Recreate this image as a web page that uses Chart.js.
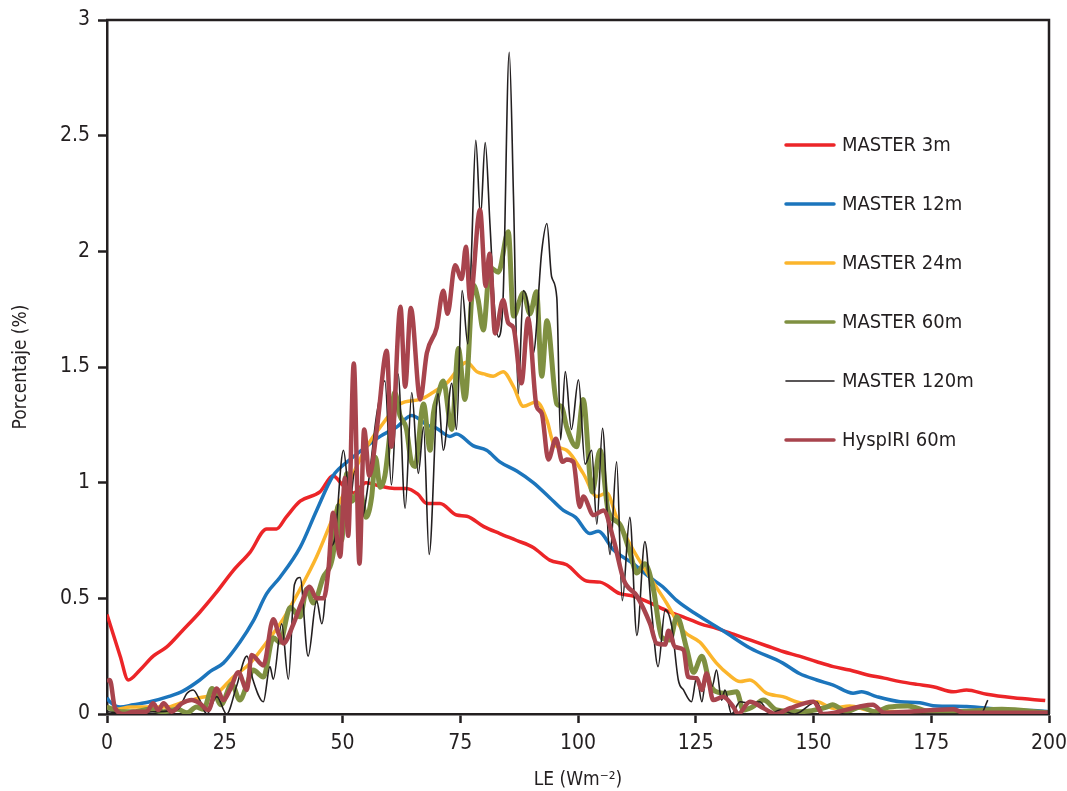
<!DOCTYPE html>
<html>
<head>
<meta charset="utf-8">
<script src="https://cdn.jsdelivr.net/npm/chart.js@4/dist/chart.umd.min.js"></script>
<style>
  html, body { margin: 0; padding: 0; background: #fff; }
  #wrap { width: 1067px; height: 791px; }
</style>
</head>
<body>
<div id="wrap"><canvas id="leChart" width="1067" height="791"></canvas></div>
<script>
'use strict'

// Datos (LE en Wm-2, porcentaje en %)
const xTicks = [0, 25, 50, 75, 100, 125, 150, 175, 200];
const yTicks = [0, 0.5, 1, 1.5, 2, 2.5, 3];

const labels = ['MASTER 3m', 'MASTER 12m', 'MASTER 24m', 'MASTER 60m', 'MASTER 120m', 'HyspIRI 60m'];

const m3X = [0, 2.8, 4.5, 7, 9.8, 12.7, 16, 19.7, 23, 26.8, 30.4, 33.9, 36, 38, 41, 45.2, 48, 50, 52.3, 55, 58, 61, 63.6, 66, 67.9, 70.7, 74.2, 76.4, 80, 83.4, 87, 90.5, 94, 97.6, 101.8, 104.7, 108.9, 111.7, 115.3, 119, 122.3, 126, 129.4, 133, 136.5, 140, 143.5, 147, 150.7, 154.2, 157.7, 161.3, 165, 168.4, 172, 175.4, 179.7, 182.5, 186.8, 192.4, 199.2];
const m3Y = [0.43, 0.25, 0.147, 0.19, 0.25, 0.29, 0.36, 0.44, 0.52, 0.62, 0.70, 0.80, 0.80, 0.85, 0.92, 0.96, 1.03, 0.99, 0.955, 1.0, 0.985, 0.975, 0.975, 0.95, 0.91, 0.91, 0.86, 0.855, 0.81, 0.78, 0.75, 0.72, 0.665, 0.645, 0.575, 0.57, 0.52, 0.51, 0.48, 0.445, 0.42, 0.39, 0.37, 0.345, 0.32, 0.295, 0.27, 0.25, 0.226, 0.205, 0.19, 0.17, 0.155, 0.14, 0.128, 0.118, 0.096, 0.104, 0.085, 0.07, 0.058];

const m12X = [0, 0.6, 2.8, 5.6, 9.1, 13, 16.2, 19.7, 22, 24.7, 28.2, 31, 33.9, 36.7, 41, 44.5, 48, 51.6, 55, 58, 61.5, 64.7, 66.3, 67.9, 70, 72.8, 74.2, 77.7, 80.6, 83.4, 87, 90.5, 94, 96.9, 99.5, 102.5, 104.3, 107.5, 111.7, 115.3, 118, 121, 125.2, 130.8, 136.5, 143.5, 147, 150.7, 154.2, 158.4, 160.2, 163.4, 168.4, 172.6, 175.4, 182.5, 189.6, 196.6, 200];
const m12Y = [0.07, 0.053, 0.03, 0.04, 0.053, 0.075, 0.10, 0.147, 0.185, 0.22, 0.31, 0.40, 0.52, 0.59, 0.72, 0.88, 1.03, 1.1, 1.155, 1.2, 1.24, 1.29, 1.275, 1.25, 1.235, 1.20, 1.21, 1.16, 1.14, 1.09, 1.05, 1.0, 0.935, 0.88, 0.85, 0.78, 0.79, 0.71, 0.65, 0.59, 0.55, 0.49, 0.43, 0.36, 0.285, 0.22, 0.175, 0.147, 0.125, 0.09, 0.096, 0.075, 0.053, 0.049, 0.036, 0.032, 0.02, 0.015, 0.01];

const m24X = [0, 2, 5, 9, 12.7, 16, 19.7, 23.3, 26.8, 30.4, 33.9, 37.4, 41, 44.5, 48, 51.6, 55, 58, 62.2, 66.5, 69.2, 72.1, 76.4, 78.5, 80, 82, 84.1, 86.3, 88.4, 91.2, 93.4, 94.8, 97.6, 101.1, 104, 106.1, 108.2, 111.7, 115.3, 118.8, 122.3, 125.9, 129.4, 132, 134.4, 136.5, 140, 143.5, 147.8, 150.7, 154.2, 157.7, 162, 170, 180, 190, 200];
const m24Y = [0.03, 0.02, 0.03, 0.03, 0.03, 0.05, 0.07, 0.09, 0.16, 0.22, 0.31, 0.41, 0.54, 0.68, 0.85, 1.01, 1.15, 1.24, 1.34, 1.36, 1.39, 1.43, 1.52, 1.48, 1.47, 1.46, 1.48, 1.415, 1.33, 1.35, 1.27, 1.17, 1.14, 1.04, 0.94, 0.955, 0.85, 0.71, 0.59, 0.48, 0.36, 0.31, 0.22, 0.17, 0.14, 0.147, 0.09, 0.075, 0.047, 0.053, 0.025, 0.035, 0.015, 0.01, 0.008, 0.005, 0.005];

const m60X = [0, 3, 6, 9, 12, 15, 17, 19, 20.5, 22.3, 24.2, 26.5, 28.2, 29.6, 31, 33.2, 35.3, 36.7, 38.9, 41, 42.4, 43.8, 45.9, 48, 49.1, 49.8, 50.9, 52, 53.7, 55, 56.2, 57, 58, 59, 60, 61.1, 62.2, 63.6, 64.5, 65.4, 67.2, 68.6, 69.3, 70.3, 71.4, 73.2, 74.6, 76, 77.8, 78.8, 79.9, 81.3, 83.1, 85.2, 86.3, 88.4, 89.8, 91.2, 92.3, 93.4, 95.5, 96.5, 97.6, 99.7, 101.1, 103, 104.7, 106.4, 108.9, 111, 112.5, 114.2, 116, 117.8, 119.5, 121, 123.1, 124.5, 126.3, 128, 129.4, 131.6, 133.7, 135.1, 137, 139.4, 142.2, 147, 152.8, 154, 157, 160, 163, 166, 170, 175, 180, 190, 200];
const m60Y = [0.03, 0.01, 0.01, 0.02, 0.01, 0.02, 0.005, 0.03, 0.02, 0.11, 0.04, 0.13, 0.06, 0.12, 0.19, 0.16, 0.33, 0.31, 0.46, 0.42, 0.54, 0.48, 0.59, 0.69, 0.9, 0.75, 1.04, 0.92, 0.97, 0.85, 0.94, 1.11, 0.98, 1.03, 1.2, 1.39, 1.29, 1.23, 1.1, 1.07, 1.34, 1.14, 1.30, 1.38, 1.44, 1.23, 1.58, 1.36, 1.855, 1.79, 1.66, 1.93, 1.91, 2.085, 1.72, 1.82, 1.73, 1.825, 1.46, 1.70, 1.34, 1.33, 1.24, 1.155, 1.36, 0.96, 1.14, 0.88, 0.82, 0.7, 0.61, 0.65, 0.54, 0.33, 0.32, 0.42, 0.28, 0.18, 0.25, 0.13, 0.096, 0.09, 0.096, 0.017, 0.03, 0.06, 0.017, 0.01, 0.03, 0.04, 0.01, 0.03, 0.01, 0.03, 0.035, 0.01, 0.01, 0.02, 0.005];

const m120X = [0, 5, 10, 15, 17, 18.3, 19.7, 21.2, 23.3, 25.4, 27.5, 29.7, 31, 33.2, 34.6, 35.3, 37.1, 38.5, 39.8, 41, 42.7, 44.5, 45.6, 47.3, 48.3, 50.2, 51.6, 52.6, 54.1, 55.5, 57.3, 59, 60.4, 61.8, 63.3, 64.7, 66.1, 67.2, 68.4, 70.3, 71.4, 73.2, 74.2, 75.4, 76.6, 77.4, 78.3, 79.3, 80.3, 81.3, 82.3, 83.1, 84.1, 85.4, 86.3, 87.3, 88.4, 89.4, 90.5, 92.3, 93.4, 94.4, 95.5, 96.3, 97.3, 98.6, 100.1, 101.5, 102.9, 104, 105.2, 106.8, 108.2, 109.4, 111, 112.5, 114.2, 115.6, 117, 118.5, 119.9, 121.3, 122.4, 124.1, 125.2, 126.3, 127.3, 128.5, 129.4, 130.5, 131.2, 132.6, 134.4, 136.5, 138.6, 140.8, 142.9, 146, 150.7, 152, 160, 170, 180, 185.5, 187];
const m120Y = [0.01, 0.0, 0.01, 0.02, 0.09, 0.104, 0.06, 0.0, 0.075, 0.0, 0.12, 0.25, 0.147, 0.053, 0.205, 0.15, 0.39, 0.15, 0.56, 0.59, 0.25, 0.49, 0.39, 0.71, 0.75, 1.14, 0.925, 1.05, 0.85, 1.0, 1.30, 1.44, 0.99, 1.47, 0.89, 1.39, 1.04, 1.24, 0.69, 1.385, 1.14, 1.43, 1.23, 1.83, 1.6, 2.0, 2.48, 2.15, 2.47, 2.12, 1.75, 1.63, 1.80, 2.86, 2.24, 1.385, 1.83, 1.77, 1.56, 2.0, 2.12, 1.89, 1.80, 1.185, 1.48, 1.23, 1.445, 1.08, 1.14, 0.82, 1.235, 0.69, 1.09, 0.49, 0.85, 0.34, 0.745, 0.45, 0.205, 0.45, 0.38, 0.147, 0.104, 0.053, 0.16, 0.053, 0.175, 0.12, 0.19, 0.06, 0.104, 0.0, 0.053, 0.047, 0.053, 0.0, 0.017, 0.0, 0.053, 0.0, 0.0, 0.0, 0.0, 0.0, 0.06];

const hyX = [0, 0.6, 1.7, 3.8, 5.6, 8.4, 9.8, 10.9, 12, 13.7, 15.9, 18, 19.7, 21.5, 23.3, 24.7, 26.1, 27.9, 29.7, 30.7, 33.2, 35.3, 36.4, 37.4, 39.6, 41.3, 43, 44.5, 46, 47, 48, 49.5, 50.5, 51.2, 52.4, 53.6, 54.6, 55.7, 57.4, 59.4, 60.4, 62.3, 63.3, 64.5, 66.5, 67.9, 70, 71.4, 72.3, 73.9, 75.3, 76.2, 77.1, 79.2, 80.4, 81.2, 82.4, 84.1, 85.2, 86.3, 88, 89.4, 91.2, 92.3, 93.7, 95.3, 96.7, 97.6, 99, 100.4, 101.1, 103.3, 105.4, 107.6, 109.7, 112.5, 115.3, 116.7, 118.5, 119.2, 120.6, 122.4, 123.4, 125.2, 126.3, 127.3, 128.7, 130.8, 133, 134, 136.5, 139.4, 142, 145, 150, 152, 162.6, 165, 179.7, 182, 200];
const hyY = [0.14, 0.147, 0.025, 0.0, 0.01, 0.01, 0.046, 0.017, 0.046, 0.01, 0.046, 0.06, 0.046, 0.017, 0.11, 0.06, 0.104, 0.18, 0.104, 0.255, 0.21, 0.41, 0.35, 0.305, 0.39, 0.48, 0.55, 0.5, 0.5, 0.62, 0.87, 0.68, 1.02, 0.77, 1.515, 0.65, 1.23, 1.03, 1.25, 1.57, 1.155, 1.76, 1.415, 1.755, 1.36, 1.56, 1.67, 1.83, 1.73, 1.94, 1.88, 2.02, 1.79, 2.18, 1.85, 1.99, 1.645, 1.79, 1.69, 1.67, 1.43, 1.71, 1.33, 1.30, 1.10, 1.19, 1.09, 1.10, 1.09, 0.895, 0.94, 0.86, 0.88, 0.75, 0.58, 0.51, 0.39, 0.305, 0.30, 0.36, 0.29, 0.277, 0.16, 0.155, 0.104, 0.175, 0.06, 0.075, 0.03, 0.0, 0.053, 0.025, 0.0, 0.025, 0.053, 0.0, 0.04, 0.005, 0.02, 0.005, 0.005];

const seriesX = [m3X, m12X, m24X, m60X, m120X, hyX];
const seriesY = [m3Y, m12Y, m24Y, m60Y, m120Y, hyY];
const colors = ['#ec2528', '#1c75bc', '#fbb52c', '#7f9041', '#231f20', '#a8444d'];
const widths = [3.5, 3.5, 3.5, 5, 1.6, 4.5];

const FONT = "'Liberation Sans Narrow', 'DejaVu Sans Condensed', 'Liberation Sans', sans-serif";
const INK = '#231f20';

const datasets = labels.map((label, i) => ({
    label: label,
    data: seriesX[i].map((x, j) => ({ x: x, y: seriesY[i][j] })),
    borderColor: colors[i],
    backgroundColor: colors[i],
    borderWidth: widths[i],
    pointRadius: 0,
    fill: false,
    cubicInterpolationMode: 'monotone',
    order: labels.length - i
}));

// Marco superior y derecho + leyenda dentro del área
const framePlugin = {
    id: 'frame',
    afterDraw(chart) {
        const { ctx, chartArea: a } = chart;
        ctx.save();
        ctx.strokeStyle = INK;
        ctx.lineWidth = 2.5;
        ctx.beginPath();
        ctx.moveTo(a.left - 1, a.top);
        ctx.lineTo(a.right, a.top);
        ctx.lineTo(a.right, a.bottom);
        ctx.stroke();

        // leyenda
        const lx = 786, lw = 48, ly = 145, step = 59;
        ctx.font = '20px ' + FONT;
        ctx.textBaseline = 'middle';
        ctx.textAlign = 'left';
        chart.data.datasets.forEach((ds, i) => {
            const y = ly + i * step;
            ctx.strokeStyle = ds.borderColor;
            ctx.lineWidth = i === 4 ? 1.6 : 3.5;
            ctx.lineCap = 'round';
            ctx.beginPath();
            ctx.moveTo(lx, y);
            ctx.lineTo(lx + lw, y);
            ctx.stroke();
            ctx.fillStyle = INK;
            ctx.fillText(ds.label, lx + 56, y + 1);
        });
        ctx.restore();
    }
};

const ctx = document.getElementById('leChart').getContext('2d');

const leChart = new Chart(ctx, {
    type: 'line',
    data: { datasets: datasets },
    options: {
        responsive: false,
        animation: false,
        layout: { padding: { left: 0, right: 18, top: 20, bottom: 0 } },
        plugins: {
            legend: { display: false },
            tooltip: { enabled: false }
        },
        scales: {
            x: {
                type: 'linear',
                min: 0,
                max: 200,
                afterBuildTicks: (s) => { s.ticks = xTicks.map(v => ({ value: v })); },
                afterFit: (s) => { s.height = 77; s.paddingLeft = 0; s.paddingRight = 0; },
                ticks: {
                    color: INK,
                    padding: 8,
                    maxRotation: 0,
                    font: { family: FONT, size: 21 },
                    callback: (v) => String(v)
                },
                grid: {
                    drawOnChartArea: false,
                    drawTicks: true,
                    tickLength: 9,
                    tickWidth: 2.5,
                    tickColor: INK
                },
                border: { display: true, color: INK, width: 2.5 },
                title: {
                    display: true,
                    text: 'LE (Wm\u207B\u00B2)',
                    color: INK,
                    font: { family: FONT, size: 19 },
                    padding: { top: 0, bottom: 0 }
                }
            },
            y: {
                type: 'linear',
                min: 0,
                max: 3,
                afterBuildTicks: (s) => { s.ticks = yTicks.map(v => ({ value: v })); },
                afterFit: (s) => { s.width = 107; s.paddingTop = 0; s.paddingBottom = 0; },
                ticks: {
                    color: INK,
                    padding: 8,
                    font: { family: FONT, size: 21 },
                    callback: (v) => String(v)
                },
                grid: {
                    drawOnChartArea: false,
                    drawTicks: true,
                    tickLength: 9,
                    tickWidth: 2.5,
                    tickColor: INK
                },
                border: { display: true, color: INK, width: 2.5 },
                title: {
                    display: true,
                    text: 'Porcentaje (%)',
                    color: INK,
                    font: { family: FONT, size: 19 },
                    padding: { top: 10, bottom: 0 }
                }
            }
        }
    },
    plugins: [framePlugin]
});
</script>
</body>
</html>
